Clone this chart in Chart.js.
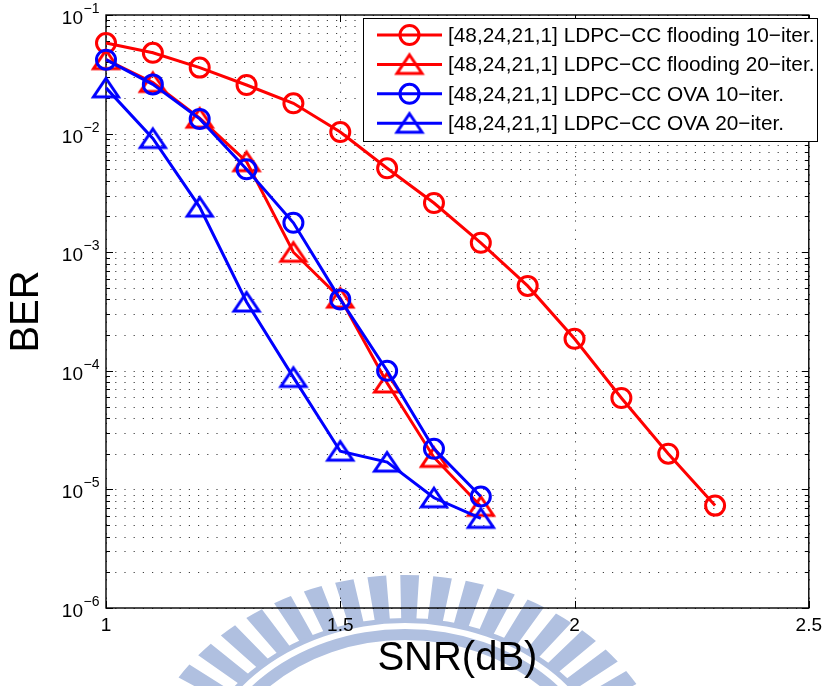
<!DOCTYPE html>
<html><head><meta charset="utf-8">
<script src="https://cdn.jsdelivr.net/npm/chart.js@4"></script>
<style>html,body{margin:0;padding:0;background:#fff;} canvas{display:block}</style>
</head><body>
<canvas id="c" width="828" height="686"></canvas>
<script>
// ---- data ----
const snrLong  = [1.0, 1.1, 1.2, 1.3, 1.4, 1.5, 1.6, 1.7, 1.8, 1.9, 2.0, 2.1, 2.2, 2.3];
const snrShort = [1.0, 1.1, 1.2, 1.3, 1.4, 1.5, 1.6, 1.7, 1.8];
const berFlooding10 = [0.058, 0.048, 0.036, 0.0257, 0.018, 0.0103, 0.0051, 0.0026, 0.0012, 0.00052, 0.000186, 5.9e-5, 2.0e-5, 7.3e-6];
const berFlooding20 = [0.042, 0.027, 0.0135, 0.0058, 0.001, 0.00041, 7.9e-5, 1.86e-5, 7.2e-6];
const berOva10      = [0.042, 0.026, 0.0133, 0.005, 0.00177, 0.0004, 1.0e-4, 2.2e-5, 8.7e-6];
const berOva20      = [0.0243, 0.0091, 0.0024, 0.00038, 8.8e-5, 2.1e-5, 1.7e-5, 8.5e-6, 5.7e-6];
const seriesLabels = [
  '[48,24,21,1] LDPC\u2212CC flooding 10\u2212iter.',
  '[48,24,21,1] LDPC\u2212CC flooding 20\u2212iter.',
  '[48,24,21,1] LDPC\u2212CC OVA 10\u2212iter.',
  '[48,24,21,1] LDPC\u2212CC OVA 20\u2212iter.'
];
const xTickValues = [1, 1.5, 2, 2.5];
const yTickExponents = [-1, -2, -3, -4, -5, -6];
const xTitle = 'SNR(dB)';
const yTitle = 'BER';

const RED = '#ff0000', BLUE = '#0000ff';
const FONT = '"Liberation Sans", Arial, Helvetica, sans-serif';

function triangleMarker(color) {
  const c = document.createElement('canvas');
  c.width = 32; c.height = 28;
  const g = c.getContext('2d');
  g.strokeStyle = color; g.lineWidth = 3; g.lineJoin = 'miter';
  g.beginPath(); g.moveTo(16, 4.5); g.lineTo(28.5, 23); g.lineTo(3.5, 23); g.closePath(); g.stroke();
  return c;
}
const triRed = triangleMarker(RED), triBlue = triangleMarker(BLUE);

function pts(xs, ys) { return xs.map((x, i) => ({x: x, y: ys[i]})); }
function ds(label, xs, ys, color, marker, order) {
  return {
    label: label, data: pts(xs, ys), borderColor: color, borderWidth: 3,
    pointStyle: marker, pointRadius: 9.5, pointBorderWidth: 3, pointBorderColor: color,
    pointBackgroundColor: 'rgba(0,0,0,0)', tension: 0, clip: false, order: order, fill: false
  };
}
const markers = ['circle', triRed, 'circle', triBlue];
const colors = [RED, RED, BLUE, BLUE];
const datasets = [
  ds(seriesLabels[0], snrLong,  berFlooding10, RED,  'circle', 3),
  ds(seriesLabels[1], snrShort, berFlooding20, RED,  triRed,   2),
  ds(seriesLabels[2], snrShort, berOva10,      BLUE, 'circle', 1),
  ds(seriesLabels[3], snrShort, berOva20,      BLUE, triBlue,  0)
];

// watermark (faint logo behind chart)
const watermark = {
  id: 'watermark',
  beforeDraw(chart) {
    const ctx = chart.ctx;
    ctx.save();
    ctx.translate(405, 800);
    ctx.scale(1.2, 1);
    ctx.fillStyle = 'rgb(176,192,224)';
    const d2r = Math.PI / 180;
    for (let a = -180; a <= 0; a += 7) {
      const a0 = (a - 2.0) * d2r, a1 = (a + 2.0) * d2r;
      ctx.beginPath();
      ctx.arc(0, 0, 225, a0, a1);
      ctx.arc(0, 0, 180, a1, a0, true);
      ctx.closePath(); ctx.fill();
    }
    ctx.beginPath(); ctx.arc(0, 0, 182, Math.PI, 2 * Math.PI); ctx.arc(0, 0, 177, 2 * Math.PI, Math.PI, true); ctx.closePath(); ctx.fill();
    ctx.beginPath(); ctx.arc(0, 0, 171, Math.PI, 2 * Math.PI); ctx.arc(0, 0, 160, 2 * Math.PI, Math.PI, true); ctx.closePath(); ctx.fill();
    ctx.restore();
  }
};

// grid, box and inward ticks (MATLAB style)
const axesDecor = {
  id: 'axesDecor',
  beforeDatasetsDraw(chart) {
    const ctx = chart.ctx, a = chart.chartArea, xs = chart.scales.x, ys = chart.scales.y;
    ctx.save();
    ctx.strokeStyle = 'rgba(0,0,0,0.75)'; ctx.lineWidth = 1; ctx.setLineDash([1.2, 8]);
    const yVals = [];
    for (let e = -6; e <= -2; e++) for (let m = 1; m <= 9; m++) yVals.push(m * Math.pow(10, e));
    yVals.push(0.1);
    yVals.forEach(v => {
      const y = Math.round(ys.getPixelForValue(v)) + 0.5;
      ctx.beginPath(); ctx.moveTo(a.left, y); ctx.lineTo(a.right, y); ctx.stroke();
    });
    xTickValues.forEach(v => {
      const x = Math.round(xs.getPixelForValue(v)) + 0.5;
      ctx.beginPath(); ctx.moveTo(x, a.bottom); ctx.lineTo(x, a.top); ctx.stroke();
    });
    ctx.setLineDash([]);
    ctx.strokeStyle = '#000'; ctx.lineWidth = 1.4;
    ctx.strokeRect(a.left, a.top, a.right - a.left, a.bottom - a.top);
    ctx.lineWidth = 1;
    yVals.forEach(v => {
      const y = Math.round(ys.getPixelForValue(v)) + 0.5;
      const major = Math.abs(Math.log10(v) - Math.round(Math.log10(v))) < 1e-9;
      const L = major ? 7 : 4;
      ctx.beginPath();
      ctx.moveTo(a.left, y); ctx.lineTo(a.left + L, y);
      ctx.moveTo(a.right, y); ctx.lineTo(a.right - L, y);
      ctx.stroke();
    });
    xTickValues.forEach(v => {
      const x = Math.round(xs.getPixelForValue(v)) + 0.5;
      ctx.beginPath();
      ctx.moveTo(x, a.bottom); ctx.lineTo(x, a.bottom - 7);
      ctx.moveTo(x, a.top); ctx.lineTo(x, a.top + 7);
      ctx.stroke();
    });
    ctx.restore();
  },
  afterDraw(chart) {
    const ctx = chart.ctx, ys = chart.scales.y;
    ctx.save();
    ctx.fillStyle = '#000';
    // y tick labels 10^e
    yTickExponents.forEach(e => {
      const y = ys.getPixelForValue(Math.pow(10, e));
      ctx.font = '19px ' + FONT; ctx.textAlign = 'right'; ctx.textBaseline = 'alphabetic';
      ctx.fillText('10', 83, y + 9);
      ctx.font = '14px ' + FONT; ctx.textAlign = 'left';
      ctx.fillText('\u2212' + String(-e), 83.5, y - 2);
    });
    // legend
    const bx = 363.5, by = 18.5, bw = 454, bh = 123;
    ctx.fillStyle = '#fff'; ctx.fillRect(bx, by, bw, bh);
    ctx.strokeStyle = '#000'; ctx.lineWidth = 1; ctx.strokeRect(bx, by, bw, bh);
    seriesLabels.forEach((lab, i) => {
      const y = 35 + i * 29.4;
      ctx.strokeStyle = colors[i]; ctx.lineWidth = 3;
      ctx.beginPath(); ctx.moveTo(377, y); ctx.lineTo(442, y); ctx.stroke();
      const m = markers[i];
      if (m === 'circle') {
        ctx.beginPath(); ctx.arc(409.5, y, 9.5, 0, 2 * Math.PI); ctx.stroke();
      } else {
        ctx.drawImage(m, 409.5 - m.width / 2, y - m.height / 2);
      }
      ctx.fillStyle = '#000'; ctx.font = '20.8px ' + FONT; ctx.textAlign = 'left'; ctx.textBaseline = 'middle';
      ctx.fillText(lab, 448, y + 1);
    });
    ctx.restore();
  }
};

new Chart(document.getElementById('c'), {
  type: 'line',
  data: { datasets: datasets },
  plugins: [watermark, axesDecor],
  options: {
    responsive: false, animation: false, devicePixelRatio: 1,
    layout: { padding: { left: 0, right: 17, top: 15, bottom: 0 } },
    scales: {
      x: {
        type: 'linear', min: 1, max: 2.5,
        afterBuildTicks: s => { s.ticks = xTickValues.map(v => ({value: v})); },
        ticks: { padding: 6, color: '#000', font: { family: FONT, size: 19 }, autoSkip: false, maxRotation: 0,
                 callback: v => String(v) },
        grid: { display: false, drawTicks: false },
        border: { display: false },
        title: { display: true, text: xTitle, color: '#000', font: { family: FONT, size: 40 }, padding: { top: 0, bottom: 3 } },
        afterFit: s => { s.height = 78; }
      },
      y: {
        type: 'logarithmic', min: 1e-6, max: 1e-1,
        ticks: { display: false },
        grid: { display: false, drawTicks: false },
        border: { display: false },
        title: { display: true, text: yTitle, color: '#000', font: { family: FONT, size: 40 }, padding: { top: 3, bottom: 0 } },
        afterFit: s => { s.width = 106; }
      }
    },
    plugins: { legend: { display: false }, tooltip: { enabled: false } }
  }
});
</script>
</body></html>
